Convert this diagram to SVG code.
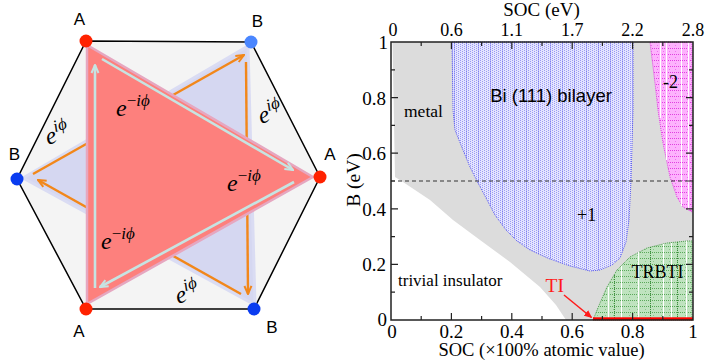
<svg xmlns="http://www.w3.org/2000/svg" width="706" height="362" viewBox="0 0 706 362">
<style>
.lbl{font-family:"Liberation Sans",Arial,sans-serif;font-size:17px;fill:#000;text-anchor:middle}
.mi{font-family:"Liberation Serif","Times New Roman",serif;font-style:italic;fill:#000}
.ser{font-family:"Liberation Serif","Times New Roman",serif;fill:#000}
.tk{font-family:"Liberation Serif","Times New Roman",serif;font-size:19px;fill:#000}
.orange{stroke:#f2871a;stroke-width:2.4;fill:none}
.cyan{stroke:#c6e4e2;stroke-width:2.6;fill:none}
.tick{stroke:#222;stroke-width:1.2}
</style>
<defs>
<marker id="mo" viewBox="0 0 10 10" refX="9" refY="5" markerWidth="10" markerHeight="10" orient="auto" markerUnits="userSpaceOnUse">
<path d="M1,1.5 L9,5 L1,8.5" fill="none" stroke="#f2871a" stroke-width="2"/>
</marker>
<marker id="mc" viewBox="0 0 10 10" refX="9" refY="5" markerWidth="10" markerHeight="10" orient="auto" markerUnits="userSpaceOnUse">
<path d="M1,1.5 L9,5 L1,8.5" fill="none" stroke="#c6e4e2" stroke-width="2"/>
</marker>
<marker id="mr" viewBox="0 0 10 10" refX="9" refY="5" markerWidth="8" markerHeight="8" orient="auto" markerUnits="userSpaceOnUse">
<path d="M0,0.5 L10,5 L0,9.5 Z" fill="#ff1a1a"/>
</marker>
<pattern id="pb" width="12" height="2" patternUnits="userSpaceOnUse">
<rect width="12" height="2" fill="#e4e4fe"/>
<rect x="0" y="0" width="1" height="1" fill="#9a9af4"/>
<rect x="2" y="1" width="1" height="1" fill="#9a9af4"/>
<rect x="4" y="0" width="1" height="1" fill="#9a9af4"/>
<rect x="6" y="1" width="1" height="1" fill="#9a9af4"/>
<rect x="8" y="0" width="1" height="1" fill="#9a9af4"/>
<rect x="10" y="1" width="1" height="1" fill="#8080f0"/>
<rect x="10" y="0" width="1" height="1" fill="#b4b4f8"/>
</pattern>
<pattern id="pm" width="6" height="6" patternUnits="userSpaceOnUse">
<rect width="6" height="6" fill="#fdb2fd"/>
<rect x="0" y="0" width="1" height="1" fill="#e040e0"/>
<rect x="2" y="0" width="1" height="1" fill="#e040e0"/>
<rect x="4" y="0" width="1" height="1" fill="#e040e0"/>
<rect x="3" y="3" width="1" height="1" fill="#f070f0"/>
</pattern>
<pattern id="pg" width="8" height="6" patternUnits="userSpaceOnUse">
<rect width="8" height="6" fill="#bfe3bf"/>
<rect x="0" y="0" width="1" height="1" fill="#5aa85a"/>
<rect x="2" y="0" width="1" height="1" fill="#5aa85a"/>
<rect x="4" y="0" width="1" height="1" fill="#5aa85a"/>
<rect x="6" y="0" width="1" height="1" fill="#5aa85a"/>
<rect x="5" y="3" width="1" height="1" fill="#8cc88c"/>
</pattern>
</defs>

<!-- LEFT PANEL -->
<polygon points="86,41 251,42 320,177 254,309 86,309 17,179" fill="#f4f4f4" stroke="#000" stroke-width="1.5"/>
<polygon points="248,46 255,305 23,178" fill="#d5d7f1" stroke="#dadcf3" stroke-width="3" stroke-linejoin="round"/>

<g id="connectors">
<line class="orange" x1="33" y1="174" x2="244" y2="55" marker-end="url(#mo)"/>
<line class="orange" x1="246" y1="62" x2="248" y2="294" marker-end="url(#mo)"/>
<line class="orange" x1="241" y1="294" x2="38" y2="180" marker-end="url(#mo)"/>
</g>

<polygon points="87,45 313,177 87,304" fill="#fd807d" stroke="#e6a7c0" stroke-width="2.5" stroke-linejoin="round"/>

<g id="connectors-cyan">
<line class="cyan" x1="102" y1="59" x2="293" y2="170" marker-end="url(#mc)"/>
<line class="cyan" x1="294" y1="182" x2="100" y2="287" marker-end="url(#mc)"/>
<line class="cyan" x1="95" y1="288" x2="95" y2="65" marker-end="url(#mc)"/>
</g>

<g id="hop-labels">
<text class="mi" x="116" y="116" font-size="24">e<tspan font-size="17" dy="-10" font-style="normal">−</tspan><tspan font-size="17">iϕ</tspan></text>
<text class="mi" x="227" y="191" font-size="24">e<tspan font-size="17" dy="-10" font-style="normal">−</tspan><tspan font-size="17">iϕ</tspan></text>
<text class="mi" x="101" y="249" font-size="24">e<tspan font-size="17" dy="-10" font-style="normal">−</tspan><tspan font-size="17">iϕ</tspan></text>
<text class="mi" font-size="24" transform="translate(261,124) rotate(-18)">e<tspan font-size="17" dy="-10">iϕ</tspan></text>
<text class="mi" font-size="24" transform="translate(48,145) rotate(-18)">e<tspan font-size="17" dy="-10">iϕ</tspan></text>
<text class="mi" font-size="24" transform="translate(178,304) rotate(-18)">e<tspan font-size="17" dy="-10">iϕ</tspan></text>
</g>

<g id="A1"><circle cx="86" cy="41" r="6.5" fill="#ff2200"/><text class="lbl" x="79.5" y="25">A</text></g>
<g id="B1"><circle cx="251" cy="42" r="6.5" fill="#4a86ff"/><text class="lbl" x="257.5" y="27">B</text></g>
<g id="A2"><circle cx="320" cy="177" r="6.5" fill="#ff2200"/><text class="lbl" x="330" y="160">A</text></g>
<g id="B2"><circle cx="254" cy="309" r="6.5" fill="#0a3cf0"/><text class="lbl" x="272" y="333">B</text></g>
<g id="A3"><circle cx="86" cy="309" r="6.5" fill="#ff2200"/><text class="lbl" x="79" y="337">A</text></g>
<g id="B3"><circle cx="17" cy="179" r="6.5" fill="#0a3cf0"/><text class="lbl" x="14.5" y="160">B</text></g>

<!-- RIGHT PANEL: phase diagram -->
<g id="regions">
<path d="M392.5,42 H693 V320 H566 L556,305 L540,287 L510,262 L480,240 L453,220 L430,200 L403,182 L395,177 Z" fill="#dcdcdc"/>
<path id="bi" d="M452,42 H633 V110 L631,181 L629,220 L626,242 L620,258 L612,265 L600,270 L590,271 L570,266 L550,259 L530,250 L517,241 L506,230 L495,215 L485,196 L477,181 L470,167 L463,150 L455,130 L453,110 Z" fill="url(#pb)" stroke="#5a5af0" stroke-width="1" stroke-dasharray="1 1"/>
<path id="m2" d="M650,42 H692 V212 L683,207 L677,197 L670,177 L663,143 L658,110 L655,83 Z" fill="url(#pm)" stroke="#e040e0" stroke-width="1" stroke-dasharray="1 1"/>
<g stroke="#fff" stroke-width="1">
<line x1="660.5" y1="42" x2="660.5" y2="118"/>
<line x1="666.5" y1="42" x2="666.5" y2="160"/>
<line x1="681.5" y1="42" x2="681.5" y2="206"/>
<line x1="688.5" y1="42" x2="688.5" y2="210"/>
</g>
<path id="trbti" d="M593,320 L600,303 L607,287 L617,270 L630,257 L647,248 L667,243 L687,241 L692,241 V320 Z" fill="url(#pg)" stroke="#4a9a4a" stroke-width="1" stroke-dasharray="1 1"/>
<g stroke="#fff" stroke-width="1">
<line x1="608.5" y1="287" x2="608.5" y2="318"/>
<line x1="621.5" y1="266" x2="621.5" y2="318"/>
<line x1="638.5" y1="252" x2="638.5" y2="318"/>
<line x1="663.5" y1="244" x2="663.5" y2="318"/>
<line x1="671.5" y1="243" x2="671.5" y2="318"/>
<line x1="686.5" y1="241" x2="686.5" y2="318"/>
</g>
<g stroke="#3c8c3c" stroke-width="1" stroke-dasharray="1 1">
<line x1="614.5" y1="275" x2="614.5" y2="318"/>
<line x1="650.5" y1="247" x2="650.5" y2="318"/>
<line x1="677.5" y1="242" x2="677.5" y2="318"/>
</g>
<rect x="593" y="317.3" width="100" height="3" fill="#ff0000"/>
</g>

<line x1="391" y1="181" x2="693" y2="181" stroke="#333" stroke-width="1" stroke-dasharray="4 3"/>

<g id="axes">
<rect x="391" y="42" width="302" height="278" fill="none" stroke="#222" stroke-width="1.5"/>
<g class="tick">
<path d="M451.4,320v-7M511.8,320v-7M572.2,320v-7M632.6,320v-7 M421.2,320v-4M481.6,320v-4M542,320v-4M602.4,320v-4M662.8,320v-4"/>
<path d="M451.4,42v7M511.8,42v7M572.2,42v7M632.6,42v7 M421.2,42v4M481.6,42v4M542,42v4M602.4,42v4M662.8,42v4"/>
<path d="M391,264.4h7M391,208.8h7M391,153.2h7M391,97.6h7 M391,292.2h4M391,236.6h4M391,181h4M391,125.4h4M391,69.8h4"/>
<path d="M693,264.4h-7M693,208.8h-7M693,153.2h-7M693,97.6h-7 M693,292.2h-4M693,236.6h-4M693,181h-4M693,125.4h-4M693,69.8h-4"/>
</g>
<g class="tk" text-anchor="middle">
<text x="392" y="337.5">0</text>
<text x="451.4" y="337.5">0.2</text>
<text x="511.8" y="337.5">0.4</text>
<text x="572.2" y="337.5">0.6</text>
<text x="632.6" y="337.5">0.8</text>
<text x="693" y="337.5">1</text>
</g>
<g class="tk" text-anchor="middle" style="font-size:18px">
<text x="393" y="36">0</text>
<text x="451.4" y="36">0.6</text>
<text x="511.8" y="36">1.1</text>
<text x="572.2" y="36">1.7</text>
<text x="632.6" y="36">2.2</text>
<text x="693" y="36">2.8</text>
</g>
<g class="tk" text-anchor="end">
<text x="387" y="326">0</text>
<text x="386" y="271">0.2</text>
<text x="386" y="215.5">0.4</text>
<text x="386" y="160">0.6</text>
<text x="386" y="104.5">0.8</text>
<text x="388" y="48.5">1</text>
</g>
<text class="ser" x="541.5" y="356" font-size="18.5" text-anchor="middle">SOC (×100% atomic value)</text>
<text class="ser" x="541.5" y="16" font-size="19" text-anchor="middle">SOC (eV)</text>
<text class="ser" font-size="19.5" text-anchor="middle" transform="translate(360,180) rotate(-90)">B (eV)</text>
</g>

<g id="region-labels">
<text class="ser" x="404" y="117" font-size="17.5">metal</text>
<text x="551" y="102" font-size="18.5" text-anchor="middle" font-family="Liberation Sans, Arial, sans-serif">Bi (111) bilayer</text>
<text class="ser" x="663" y="88" font-size="18">-2</text>
<text class="ser" x="577" y="221" font-size="18">+1</text>
<text class="ser" x="398" y="285.5" font-size="17">trivial insulator</text>
<text class="ser" x="631.5" y="278" font-size="18">TRBTI</text>
<text class="ser" x="545.5" y="292" font-size="19.5" style="fill:#ff1a1a">TI</text>
</g>
<g id="connectors-plot">
<line x1="564" y1="295" x2="591.5" y2="317.5" stroke="#ff1a1a" stroke-width="1.5" marker-end="url(#mr)"/>
</g>
</svg>
